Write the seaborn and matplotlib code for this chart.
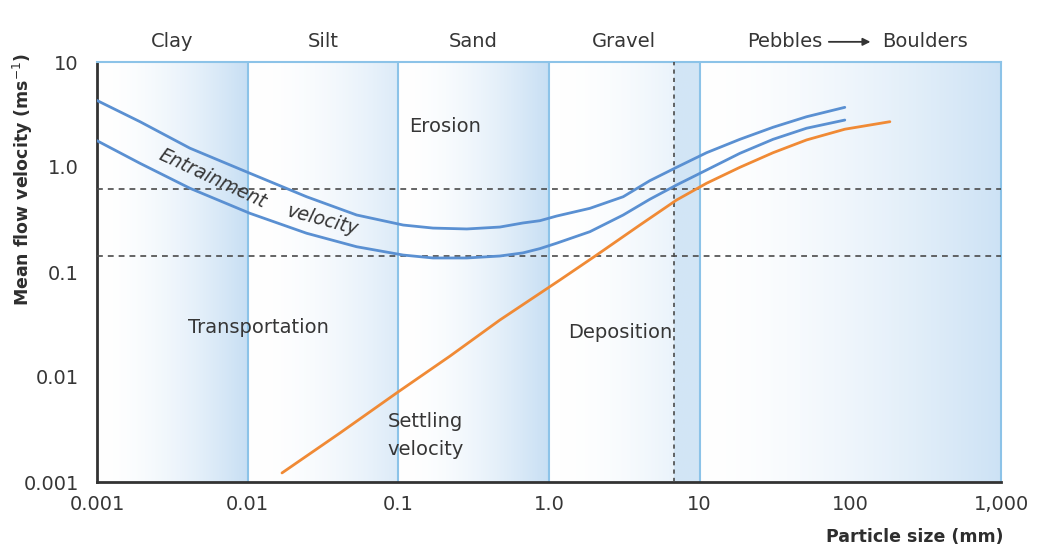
import numpy as np
import pandas as pd
import matplotlib
matplotlib.use("Agg")
import matplotlib.pyplot as plt
import matplotlib.transforms as mtransforms
from matplotlib.ticker import NullLocator, FixedLocator, FixedFormatter
import seaborn as sns

# ---------------- data ----------------
entrain_x = [0.001, 0.00193, 0.00414, 0.01036, 0.0246, 0.0529, 0.1078, 0.170,
             0.285, 0.472, 0.671, 0.870, 1.123, 1.868, 3.108, 4.67, 7.03, 11.11,
             18.49, 30.7, 51.2, 91.9]
entrain_upper_y = [4.30, 2.70, 1.51, 0.871, 0.521, 0.349, 0.280, 0.262,
                   0.257, 0.268, 0.293, 0.308, 0.341, 0.404, 0.521, 0.741, 0.993, 1.368,
                   1.835, 2.39, 3.01, 3.70]
entrain_lower_y = [1.78, 1.084, 0.627, 0.362, 0.234, 0.174, 0.145, 0.136,
                   0.136, 0.142, 0.152, 0.167, 0.188, 0.242, 0.349, 0.493, 0.674, 0.936,
                   1.35, 1.835, 2.34, 2.80]
settling_x = [0.0169, 0.041, 0.0994, 0.220, 0.472, 1.181, 2.07, 4.01, 7.03,
              11.11, 18.49, 30.7, 51.2, 91.9, 183]
settling_y = [0.00122, 0.00293, 0.00719, 0.0158, 0.0349, 0.0839, 0.145, 0.280, 0.485,
              0.700, 0.993, 1.368, 1.81, 2.29, 2.70]

threshold_velocities = [0.617, 0.142]
threshold_size = 6.75

band_edges = [0.001, 0.01, 0.1, 1.0, 10.0]
band_names = ["Clay", "Silt", "Sand", "Gravel"]

x_ticks = [0.001, 0.01, 0.1, 1.0, 10, 100, 1000]
x_tick_labels = ["0.001", "0.01", "0.1", "1.0", "10", "100", "1,000"]
y_ticks = [0.001, 0.01, 0.1, 1.0, 10]
y_tick_labels = ["0.001", "0.01", "0.1", "1.0", "10"]

# ---------------- style ----------------
sns.set_style("white")
plt.rcParams["font.family"] = ["DejaVu Sans"]

TXT = "#363636"
BLUE = "#5a90d2"
ORANGE = "#f08a35"
GRID_BLUE = "#8cc3e8"

fig = plt.figure(figsize=(10.63, 5.49), dpi=100)
pos = [97 / 1063, 1 - 482 / 549, (1001 - 97) / 1063, 420 / 549]

# background gradient (in log10 units of particle size)
ax_bg = fig.add_axes(pos, zorder=0)
ncol = 1200
lx = np.linspace(-3, 3, ncol)
strength = np.zeros(ncol)
lt = np.log10(threshold_size)
segs = [(-3, -2, 0.95, 1.8), (-2, -1, 0.6, 2.0), (-1, 0, 0.95, 1.8),
        (0, lt, 0.35, 2.0), (1, 3, 0.85, 1.6)]
for a, b, s, p in segs:
    m = (lx >= a) & (lx < b)
    u = (lx[m] - a) / (b - a)
    strength[m] = s * u ** p
m = (lx >= lt) & (lx < 1)
strength[m] = 0.75
full = np.array([196, 221, 243]) / 255.0
white = np.array([1.0, 1.0, 1.0])
row = white[None, :] * (1 - strength[:, None]) + full[None, :] * strength[:, None]
img = np.repeat(row[None, :, :], 10, axis=0)
ax_bg.imshow(img, extent=[-3, 3, 0, 1], aspect="auto", interpolation="bilinear")
ax_bg.set_xlim(-3, 3)
ax_bg.set_ylim(0, 1)
ax_bg.axis("off")

ax = fig.add_axes(pos, zorder=2)
ax.patch.set_alpha(0)
ax.set_xscale("log")
ax.set_yscale("log")

df_up = pd.DataFrame({"size": entrain_x, "velocity": entrain_upper_y})
df_lo = pd.DataFrame({"size": entrain_x, "velocity": entrain_lower_y})
df_set = pd.DataFrame({"size": settling_x, "velocity": settling_y})

sns.lineplot(data=df_up, x="size", y="velocity", ax=ax, color=BLUE, lw=2.0,
             estimator=None, sort=False, zorder=5)
sns.lineplot(data=df_lo, x="size", y="velocity", ax=ax, color=BLUE, lw=2.0,
             estimator=None, sort=False, zorder=5)
sns.lineplot(data=df_set, x="size", y="velocity", ax=ax, color=ORANGE, lw=2.0,
             estimator=None, sort=False, zorder=5)

# band boundaries
for e in band_edges[1:]:
    ax.axvline(e, color=GRID_BLUE, lw=1.5, zorder=2)

# threshold dashed lines
for v in threshold_velocities:
    ax.axhline(v, color="#4a4a4a", lw=1.2, ls=(0, (3.5, 3)), zorder=3)
ax.axvline(threshold_size, color="#4a4a4a", lw=1.2, ls=(0, (2.5, 2.5)), zorder=3)

ax.set_xlim(0.001, 1000)
ax.set_ylim(0.001, 10)
ax.xaxis.set_major_locator(FixedLocator(x_ticks))
ax.xaxis.set_major_formatter(FixedFormatter(x_tick_labels))
ax.yaxis.set_major_locator(FixedLocator(y_ticks))
ax.yaxis.set_major_formatter(FixedFormatter(y_tick_labels))
ax.xaxis.set_minor_locator(NullLocator())
ax.yaxis.set_minor_locator(NullLocator())
ax.tick_params(axis="both", which="major", direction="out", length=6, width=1.3,
               color="#333333", labelsize=14, labelcolor=TXT)
ax.tick_params(axis="x", pad=3)
ax.tick_params(axis="y", pad=7)
ax.set_xlabel("")
ax.set_ylabel("")

for side in ["left", "bottom"]:
    ax.spines[side].set_color("#333333")
    ax.spines[side].set_linewidth(2.0)
for side in ["top", "right"]:
    ax.spines[side].set_color(GRID_BLUE)
    ax.spines[side].set_linewidth(1.5)

# band names above the plot
trans = mtransforms.blended_transform_factory(ax.transData, ax.transAxes)
for a, b, name in zip(band_edges[:-1], band_edges[1:], band_names):
    ax.text(np.sqrt(a * b), 1.048, name, transform=trans, ha="center", va="center",
            fontsize=14, color=TXT)
ax.text(36.7, 1.048, "Pebbles", transform=trans, ha="center", va="center",
        fontsize=14, color=TXT)
ax.text(312, 1.048, "Boulders", transform=trans, ha="center", va="center",
        fontsize=14, color=TXT)
ax.annotate("", xy=(136, 1.048), xytext=(72, 1.048), xycoords=trans, textcoords=trans,
            arrowprops=dict(arrowstyle="-|>", color="#333333", lw=1.3,
                            mutation_scale=11, shrinkA=0, shrinkB=0),
            annotation_clip=False)

# annotations inside
ax.text(0.204, 2.45, "Erosion", ha="center", va="center", fontsize=14, color=TXT)
ax.text(0.0117, 0.0293, "Transportation", ha="center", va="center", fontsize=14, color=TXT)
ax.text(2.95, 0.0268, "Deposition", ha="center", va="center", fontsize=14, color=TXT)
ax.text(0.152, 0.00373, "Settling", ha="center", va="center", fontsize=14, color=TXT)
ax.text(0.152, 0.00202, "velocity", ha="center", va="center", fontsize=14, color=TXT)
ax.text(0.00589, 0.803, "Entrainment", ha="center", va="center_baseline", fontsize=13.5,
        color=TXT, style="italic", rotation=-25, rotation_mode="anchor")
ax.text(0.0316, 0.313, "velocity", ha="center", va="center", fontsize=13.5,
        color=TXT, style="italic", rotation=-15, rotation_mode="anchor")

# axis titles
fig.text(23 / 1063, 1 - 179 / 549, "Mean flow velocity (ms$^{-1}$)", rotation=90,
         ha="center", va="center", fontsize=12.5, fontweight="bold", color="#2e2e2e")
fig.text(1003 / 1063, 1 - 537 / 549, "Particle size (mm)", ha="right", va="center",
         fontsize=12.5, fontweight="bold", color="#2e2e2e")

fig.savefig("out.png", dpi=100, facecolor="white")
